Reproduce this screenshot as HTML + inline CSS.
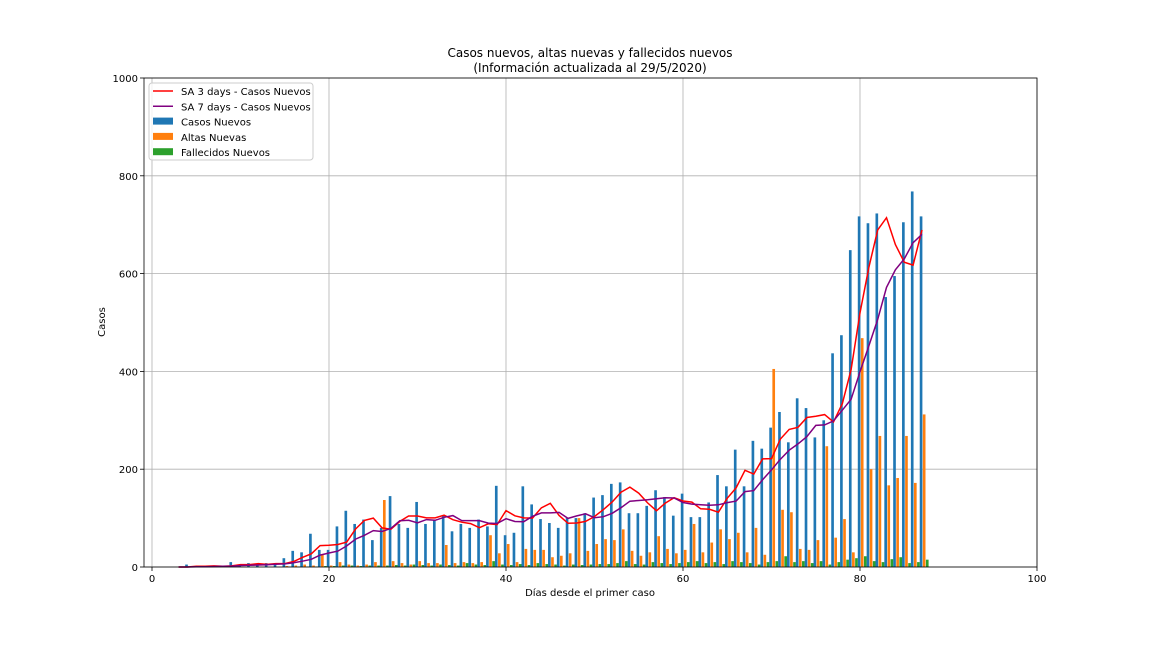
<!DOCTYPE html>
<html><head><meta charset="utf-8"><style>
body{margin:0;background:#fff;font-family:"Liberation Sans","DejaVu Sans",sans-serif}
svg text{font-family:"DejaVu Sans","Liberation Sans",sans-serif}
</style></head><body>
<svg id="c" width="1152" height="648" xmlns="http://www.w3.org/2000/svg"></svg>
<script>
const firstDay = 3;
const casos = [0,5,0,2,3,2,10,3,8,5,8,8,18,33,30,68,35,35,83,115,88,97,55,80,145,88,80,133,88,97,105,73,88,80,97,83,166,65,70,165,128,98,90,80,100,100,110,142,147,170,173,110,110,125,157,143,105,150,102,102,132,188,165,240,165,258,242,285,317,255,345,325,265,300,437,474,648,717,703,723,552,595,705,768,717];
const altas = [0,0,0,0,0,0,0,0,0,0,0,0,2,3,5,3,25,3,10,5,3,5,10,137,12,8,5,12,8,8,45,8,10,8,10,65,28,47,10,37,35,35,20,23,28,100,33,47,57,55,77,33,23,30,63,37,28,35,88,30,50,77,57,70,30,80,25,405,117,112,37,35,55,247,60,98,30,468,200,268,167,182,268,172,312];
const fallecidos = [0,0,0,0,0,0,0,0,0,0,0,0,1,1,1,1,2,2,3,3,2,3,3,3,4,3,5,4,3,5,4,3,8,5,4,12,5,4,6,4,8,6,5,3,5,4,5,6,6,8,12,6,5,10,8,6,8,10,12,8,10,6,12,10,8,5,10,12,22,10,12,8,12,5,10,15,18,22,12,10,16,20,8,10,15];
const yTicks = [0,200,400,600,800,1000];
const xTicks = [0,20,40,60,80,100];
const legendLabels = ["SA 3 days - Casos Nuevos","SA 7 days - Casos Nuevos","Casos Nuevos","Altas Nuevas","Fallecidos Nuevos"];

const NS="http://www.w3.org/2000/svg";
const svg=document.getElementById('c');
const L=144,R=1037,T=78,B=567;
const xs=d=>152+(d)*(1037-152)/100;
const ys=v=>B-v*(B-T)/1000;
function mk(t,a,p){const e=document.createElementNS(NS,t);for(const k in a)e.setAttribute(k,a[k]);(p||svg).appendChild(e);return e;}

yTicks.forEach(v=>{const g=mk('line',{x1:L,x2:R,y1:ys(v),y2:ys(v),stroke:'#b0b0b0','stroke-width':0.8});


const t=mk('text',{x:L-6,y:ys(v)+4,'text-anchor':'end','font-size':10,fill:'#000'});t.textContent=v;


mk('line',{x1:L-4,x2:L,y1:ys(v),y2:ys(v),stroke:'#000','stroke-width':0.8});});
xTicks.forEach(v=>{const g=mk('line',{x1:xs(v),x2:xs(v),y1:T,y2:B,stroke:'#b0b0b0','stroke-width':0.8});


const t=mk('text',{x:xs(v),y:B+15,'text-anchor':'middle','font-size':10,fill:'#000'});t.textContent=v;


mk('line',{x1:xs(v),x2:xs(v),y1:B,y2:B+4,stroke:'#000','stroke-width':0.8});});

const bw=0.3;
function bars(arr,off,color,name){arr.forEach((v,i)=>{const d=firstDay+i;if(v<=0)return;
const x0=xs(d+off-bw/2),x1=xs(d+off+bw/2);
const r=mk('rect',{x:x0,y:ys(v),width:x1-x0,height:B-ys(v),fill:color});

});}
bars(casos,-0.1,'#1f77b4','bar-casos-nuevos');
bars(altas,0.25,'#ff7f0e','bar-altas-nuevas');
bars(fallecidos,0.6,'#2ca02c','bar-fallecidos-nuevos');

function sa(n){const out=[];for(let i=0;i<casos.length;i++){let s=0,c=0;for(let j=i-n;j<i;j++){if(j>=0){s+=casos[j];c++;}}out.push(c?s/n:0);}return out;}
function line(vals,color,name){const pts=vals.map((v,i)=>xs(firstDay+i).toFixed(1)+','+ys(v).toFixed(1)).join(' ');
const p=mk('polyline',{points:pts,fill:'none',stroke:color,'stroke-width':1.5});

}
line(sa(3),'#ff0000','line-sa3');
line(sa(7),'#800080','line-sa7');

mk('rect',{x:L,y:T,width:R-L,height:B-T,fill:'none',stroke:'#000','stroke-width':0.8});

let t=mk('text',{x:590,y:57,'text-anchor':'middle','font-size':12});t.textContent='Casos nuevos, altas nuevas y fallecidos nuevos';


t=mk('text',{x:590,y:72,'text-anchor':'middle','font-size':12});t.textContent='(Información actualizada al 29/5/2020)';


t=mk('text',{x:590,y:596,'text-anchor':'middle','font-size':10});t.textContent='Días desde el primer caso';


t=mk('text',{x:105,y:322,'text-anchor':'middle','font-size':10,transform:'rotate(-90 105 322)'});t.textContent='Casos';



const lg=mk('g',{});


mk('rect',{x:149,y:83,width:164,height:77,rx:3,fill:'#fff','fill-opacity':0.8,stroke:'#ccc'},lg);
const lc=['#ff0000','#800080','#1f77b4','#ff7f0e','#2ca02c'];
legendLabels.forEach((s,i)=>{const y=91+i*15.3;
if(i<2)mk('line',{x1:153,x2:173,y1:y,y2:y,stroke:lc[i],'stroke-width':1.5},lg);
else mk('rect',{x:153,y:y-4,width:20,height:7,fill:lc[i]},lg);
const tx=mk('text',{x:181,y:y+4,'font-size':10},lg);tx.textContent=s;

});
</script>
</body></html>
